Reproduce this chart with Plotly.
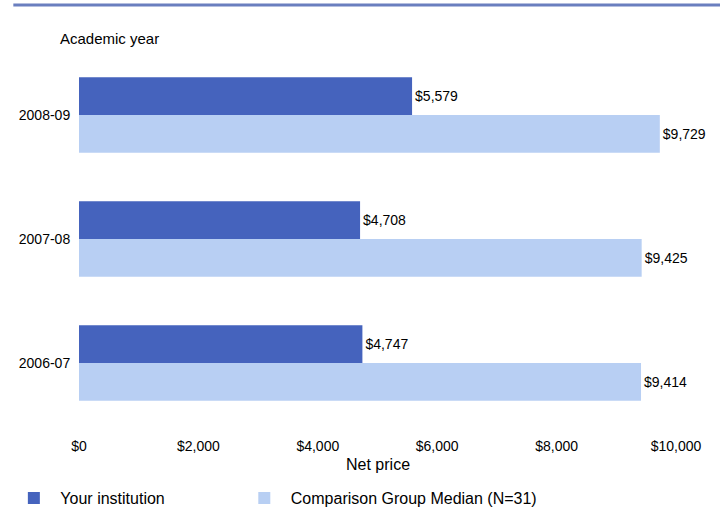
import plotly.graph_objects as go

years = ["2008-09", "2007-08", "2006-07"]
your_institution = [5579, 4708, 4747]
comparison_median = [9729, 9425, 9414]
x_ticks = [0, 2000, 4000, 6000, 8000, 10000]
x_tick_labels = ["$0", "$2,000", "$4,000", "$6,000", "$8,000", "$10,000"]

font_family = "Liberation Sans, Arial, sans-serif"

fig = go.Figure()
fig.add_trace(go.Bar(
    y=years, x=your_institution, orientation="h",
    name="Your institution", legend="legend",
    marker=dict(color="#4563BD", line=dict(width=0)),
    texttemplate="$%{x:,}", textposition="outside",
    textfont=dict(size=14, color="black"), cliponaxis=False,
))
fig.add_trace(go.Bar(
    y=years, x=comparison_median, orientation="h",
    name="Comparison Group Median (N=31)", legend="legend2",
    marker=dict(color="#B8CFF3", line=dict(width=0)),
    texttemplate="$%{x:,}", textposition="outside",
    textfont=dict(size=14, color="black"), cliponaxis=False,
))

legend_style = dict(orientation="h", yref="container", y=0.027,
                    xanchor="left", yanchor="middle",
                    font=dict(size=16), itemwidth=43)

fig.update_layout(
    width=720, height=512,
    margin=dict(l=79, r=44, t=53, b=87),
    paper_bgcolor="white", plot_bgcolor="white",
    font=dict(family=font_family, size=14, color="black"),
    barmode="group", bargap=0.39, bargroupgap=0,
    showlegend=True,
    legend=dict(x=-0.12, **legend_style),
    legend2=dict(x=0.266, **legend_style),
    annotations=[
        dict(text="Academic year", xref="paper", yref="paper",
             x=-0.035, y=1.04, xanchor="left", yanchor="middle",
             showarrow=False, font=dict(size=15)),
        dict(text="Net price", xref="paper", yref="paper",
             x=0.5, y=-0.107, xanchor="center", yanchor="middle",
             showarrow=False, font=dict(size=16)),
    ],
    shapes=[dict(type="line", xref="paper", yref="paper",
                 x0=-0.11, x1=1.08, y0=1.129, y1=1.129,
                 line=dict(color="#6A7FBF", width=3))],
)
fig.update_xaxes(
    range=[0, 10000], tickvals=x_ticks, ticktext=x_tick_labels,
    showgrid=False, zeroline=False, showline=False,
    ticks="outside", ticklen=8, tickcolor="white",
    automargin=False,
)
fig.update_yaxes(
    type="category", autorange="reversed",
    showgrid=False, zeroline=False, showline=False,
    ticks="outside", ticklen=5, tickcolor="white",
    automargin=False,
)

# page body has an 8px default margin; drop it so the figure sits at 0,0
fig.write_html("out.html", config={"displayModeBar": False},
               post_script="document.body.style.margin='0';")
